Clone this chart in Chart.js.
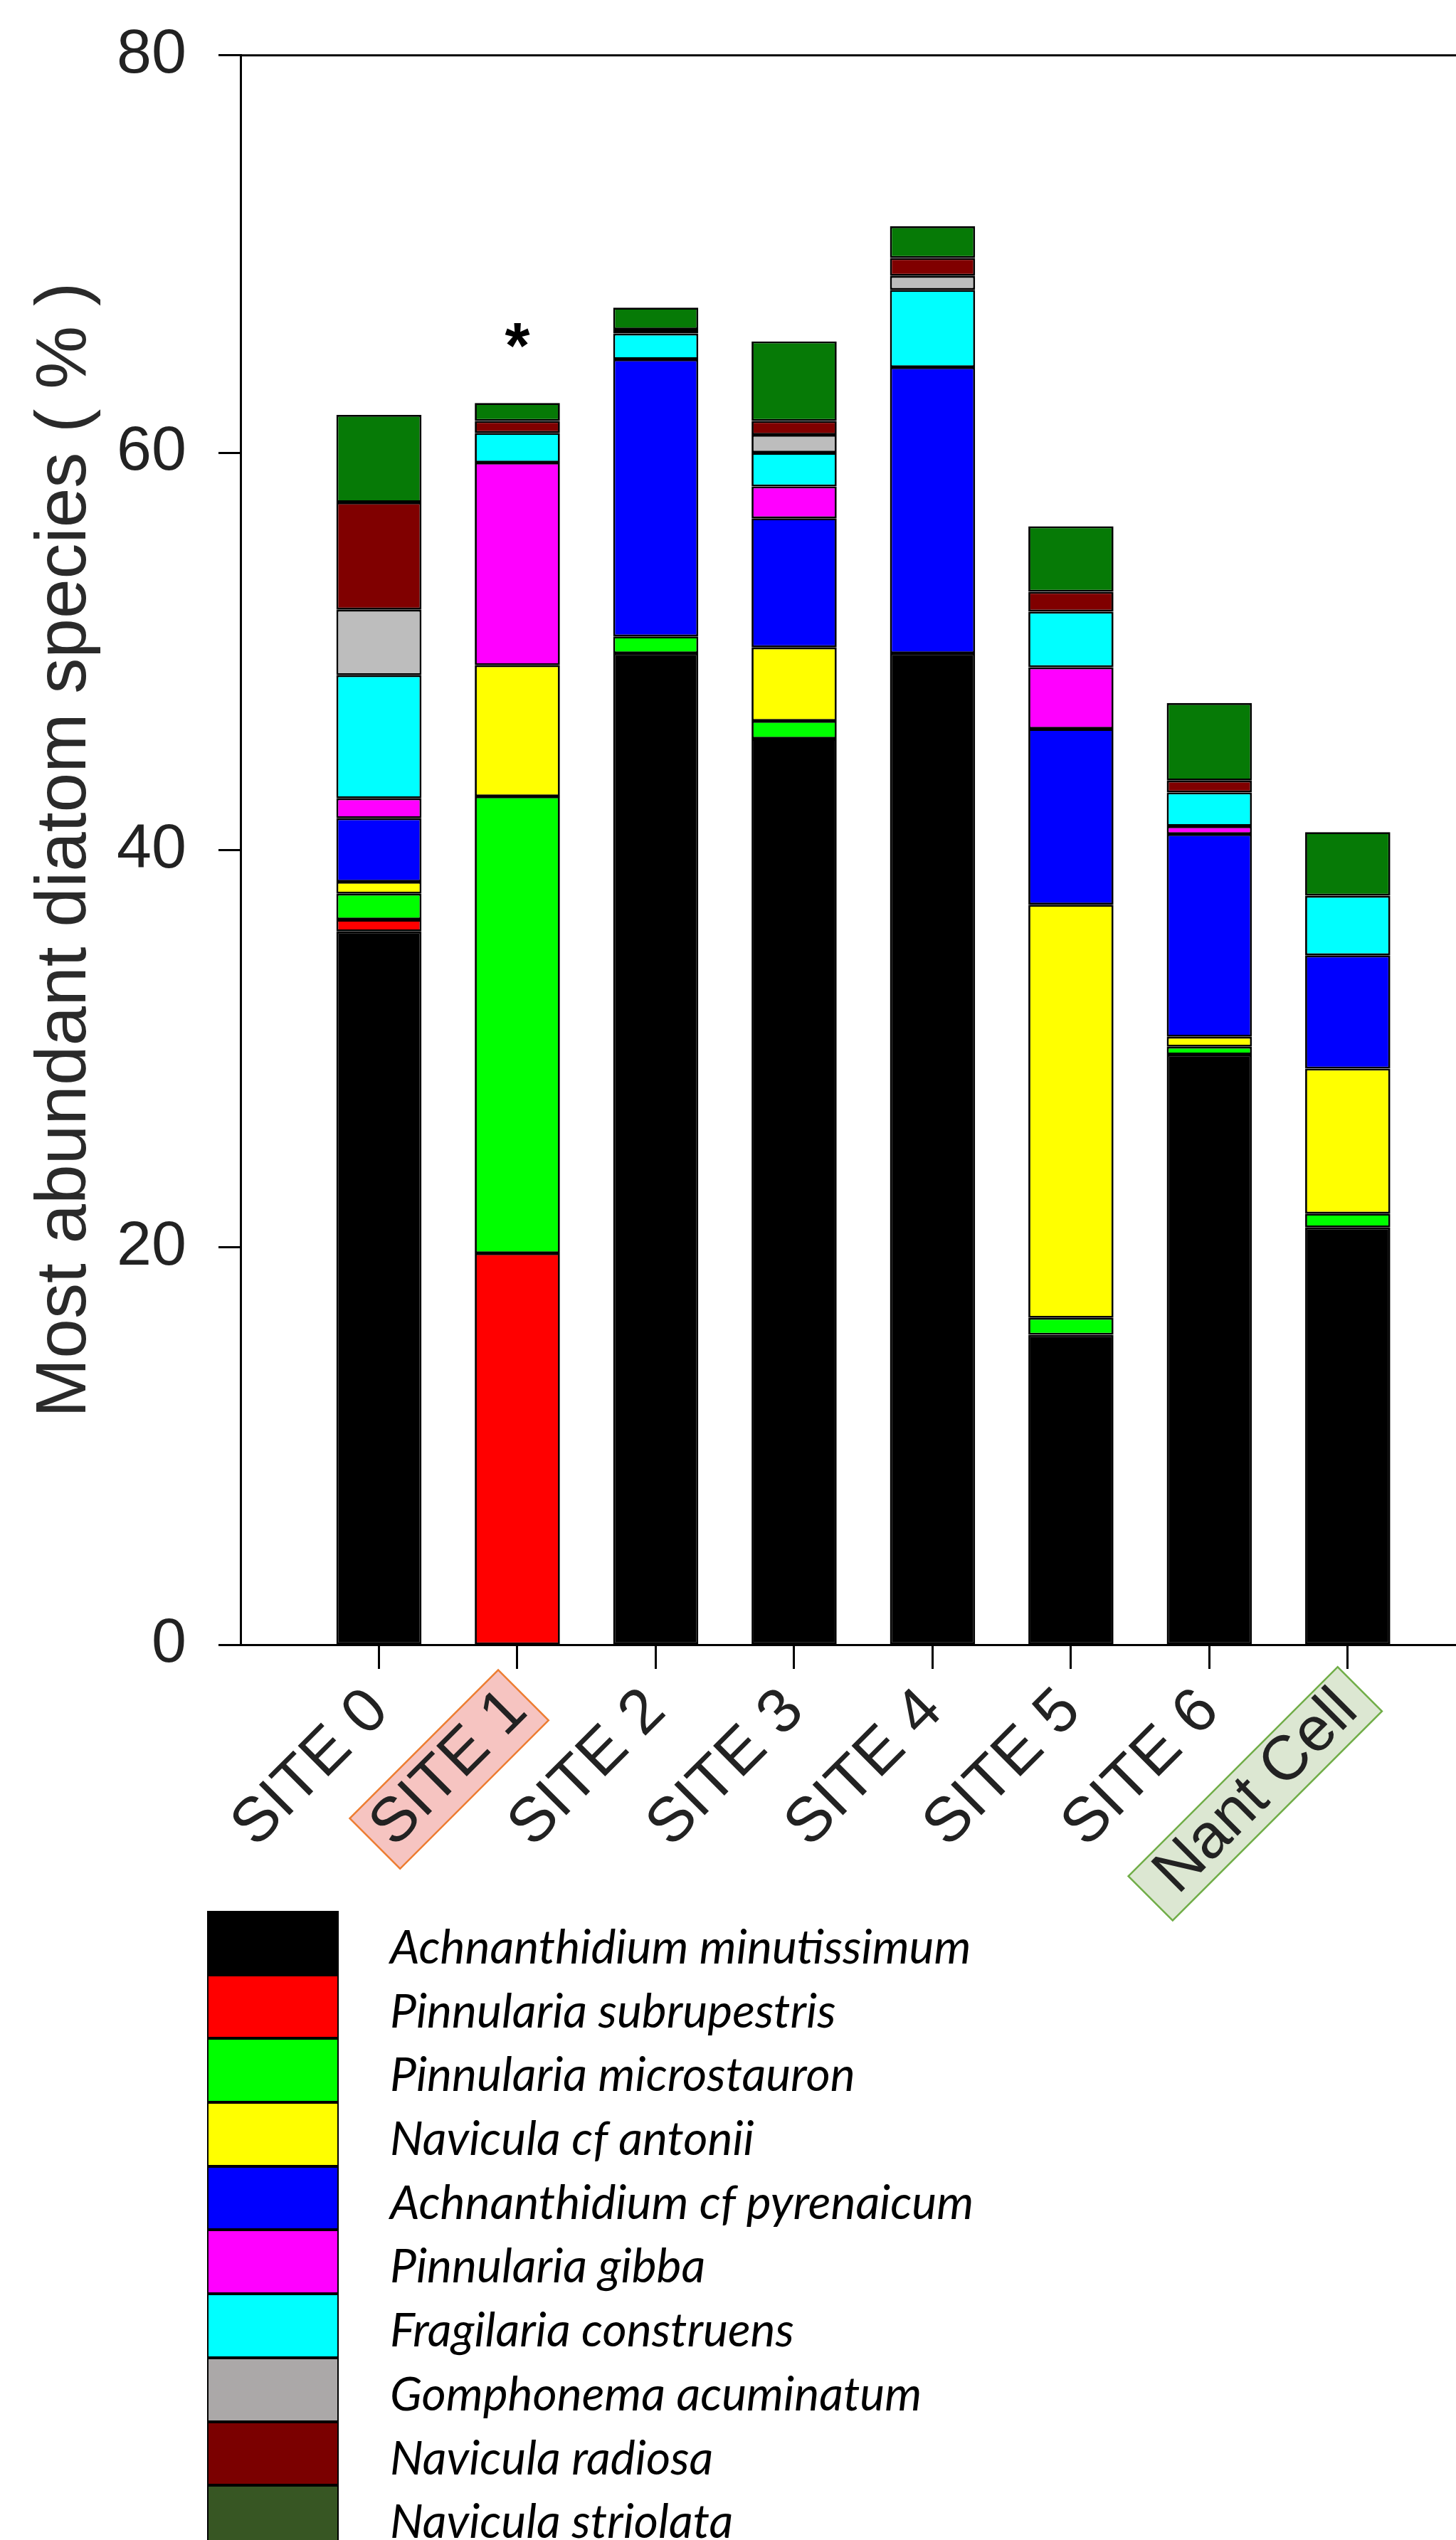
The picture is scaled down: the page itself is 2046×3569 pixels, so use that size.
<!DOCTYPE html>
<html>
<head>
<meta charset="utf-8">
<script src="https://cdn.jsdelivr.net/npm/chart.js@4"></script>
<style>
  html, body { margin: 0; padding: 0; background: #fff; width: 2046px; height: 3569px; overflow: hidden; }
  #chartWrap { position: absolute; left: 0; top: -20px; width: 2171px; height: 2731px; }
  #legend { position: absolute; left: 291px; top: 2685px; }
  .row { position: relative; height: 89.7px; }
  .swatch { position: absolute; left: 0; top: 0; width: 185px; height: 89.7px; box-sizing: border-box; border: 2.5px solid #000; }
  .name { position: absolute; left: 257px; top: 0; height: 89.7px; line-height: 89.7px; padding-top: 4px;
          font-family: Lato, "Open Sans", sans-serif; font-style: italic; font-size: 66px; color: #000; white-space: nowrap; }
</style>
</head>
<body>
<div id="chartWrap"><canvas id="diatomChart" width="2171" height="2731"></canvas></div>
<div id="legend"></div>
<script>
// Sites on the x axis
const sites = ['SITE 0', 'SITE 1', 'SITE 2', 'SITE 3', 'SITE 4', 'SITE 5', 'SITE 6', 'Nant Cell'];

// Species, bottom of the stack first
const species = [
    'Achnanthidium minutissimum',
    'Pinnularia subrupestris',
    'Pinnularia microstauron',
    'Navicula cf antonii',
    'Achnanthidium cf pyrenaicum',
    'Pinnularia gibba',
    'Fragilaria construens',
    'Gomphonema acuminatum',
    'Navicula radiosa',
    'Navicula striolata'
];

// Relative abundance (%) per site, one array per species
const minutissimum  = [35.9,  0.0, 49.9, 45.6, 49.9, 15.6, 29.7, 21.0];
const subrupestris  = [ 0.6, 19.7,  0.0,  0.0,  0.0,  0.0,  0.0,  0.0];
const microstauron  = [ 1.3, 23.0,  0.85, 0.9,  0.0,  0.85, 0.4,  0.7];
const antonii       = [ 0.6,  6.6,  0.0,  3.7,  0.0, 20.8,  0.5,  7.3];
const pyrenaicum    = [ 3.2,  0.0, 13.95, 6.5, 14.4,  8.85, 10.2, 5.7];
const gibba         = [ 1.0, 10.2,  0.0,  1.6,  0.0,  3.1,  0.4,  0.0];
const construens    = [ 6.2,  1.5,  1.3,  1.7,  3.9,  2.8,  1.7,  3.0];
const acuminatum    = [ 3.3,  0.0,  0.0,  0.9,  0.7,  0.0,  0.0,  0.0];
const radiosa       = [ 5.4,  0.6,  0.2,  0.7,  0.9,  1.0,  0.6,  0.0];
const striolata     = [ 4.4,  0.9,  1.1,  4.0,  1.6,  3.3,  3.9,  3.2];

const seriesValues = [minutissimum, subrupestris, microstauron, antonii, pyrenaicum,
                      gibba, construens, acuminatum, radiosa, striolata];

const barColors = ['#000000', '#ff0000', '#00ff00', '#ffff00', '#0000ff',
                   '#ff00ff', '#00ffff', '#bdbdbd', '#800000', '#067a06'];
const legendColors = ['#000000', '#ff0000', '#00ff00', '#ffff00', '#0000ff',
                      '#ff00ff', '#00ffff', '#aba8a8', '#7b0000', '#375623'];

const yTicks = [0, 20, 40, 60, 80];
const significance = ['', '*', '', '', '', '', '', ''];

// highlighted tick labels
const labelBoxes = {
    'SITE 1': { fill: '#f6c4c1', stroke: '#ed7d31', padL: 14, padR: 12, h: 100 },
    'Nant Cell': { fill: '#dce7d2', stroke: '#70ad47', padL: 30, padR: 24, h: 88 }
};

// blank slot on each side so the first bar sits one step from the axis
const labels = [''].concat(sites, ['']);

const datasets = species.map((name, i) => ({
    label: name,
    data: [null].concat(seriesValues[i].map(v => v > 0 ? v : null), [null]),
    backgroundColor: barColors[i],
    borderColor: '#000',
    borderWidth: 2.8,
    borderSkipped: false,
    categoryPercentage: 1,
    barPercentage: 0.615
}));

const extrasPlugin = {
    id: 'extras',
    beforeDraw(chart) {
        const ctx = chart.ctx;
        const xScale = chart.scales.x;
        xScale.getLabelItems().forEach(item => {
            const style = labelBoxes[item.label];
            if (!style) return;
            ctx.save();
            ctx.font = item.font.string;
            const w = ctx.measureText(item.label).width;
            const [tx, ty] = item.options.translation;
            ctx.translate(tx, ty);
            ctx.rotate(item.options.rotation);
            ctx.fillStyle = style.fill;
            ctx.strokeStyle = style.stroke;
            ctx.lineWidth = 2.5;
            const x0 = -w - style.padL;
            const y0 = item.textOffset - style.h / 2;
            const bw = w + style.padL + style.padR;
            ctx.fillRect(x0, y0, bw, style.h);
            ctx.strokeRect(x0, y0, bw, style.h);
            ctx.restore();
        });
    },
    afterDraw(chart) {
        const ctx = chart.ctx;
        const area = chart.chartArea;
        const xScale = chart.scales.x;
        const yScale = chart.scales.y;
        // top frame line
        ctx.save();
        ctx.strokeStyle = '#000';
        ctx.lineWidth = 3;
        ctx.beginPath();
        ctx.moveTo(area.left, area.top);
        ctx.lineTo(chart.width, area.top);
        ctx.stroke();
        // significance marks
        ctx.fillStyle = '#000';
        ctx.font = 'bold 90px "Liberation Sans", Arial, sans-serif';
        ctx.textAlign = 'center';
        ctx.textBaseline = 'alphabetic';
        significance.forEach((mark, i) => {
            if (!mark) return;
            const total = seriesValues.reduce((s, arr) => s + arr[i], 0);
            ctx.fillText(mark, xScale.getPixelForValue(i + 1), yScale.getPixelForValue(total) - 49);
        });
        ctx.restore();
    }
};

const ctx = document.getElementById('diatomChart').getContext('2d');
new Chart(ctx, {
    type: 'bar',
    data: { labels: labels, datasets: datasets },
    plugins: [extrasPlugin],
    options: {
        responsive: false,
        animation: false,
        devicePixelRatio: 1,
        layout: { padding: { top: 58, right: 11.5, bottom: 0, left: 0 } },
        plugins: {
            legend: { display: false },
            tooltip: { enabled: false }
        },
        scales: {
            x: {
                stacked: true,
                offset: false,
                afterFit: s => { s.height = 400; },
                grid: {
                    offset: false,
                    drawOnChartArea: false,
                    drawTicks: true,
                    tickLength: 34,
                    tickWidth: 3,
                    tickColor: c => (c.tick && c.tick.label) ? '#000' : 'rgba(0,0,0,0)'
                },
                border: { display: true, color: '#000', width: 3 },
                ticks: {
                    autoSkip: false,
                    minRotation: 45,
                    maxRotation: 45,
                    padding: 8,
                    color: '#222',
                    font: { family: '"Liberation Sans", Arial, sans-serif', size: 88 }
                }
            },
            y: {
                stacked: true,
                min: 0,
                max: 80,
                afterFit: s => { s.width = 338; },
                afterBuildTicks: s => { s.ticks = yTicks.map(v => ({ value: v })); },
                grid: {
                    drawOnChartArea: false,
                    drawTicks: true,
                    tickLength: 31,
                    tickWidth: 3,
                    tickColor: '#000'
                },
                border: { display: true, color: '#000', width: 3 },
                ticks: {
                    padding: 45,
                    color: '#222',
                    font: { family: '"Liberation Sans", Arial, sans-serif', size: 88 }
                },
                title: {
                    display: true,
                    text: 'Most abundant diatom species ( % )',
                    color: '#2a2a2a',
                    padding: { top: 32, bottom: 12 },
                    font: { family: '"Liberation Sans", Arial, sans-serif', size: 100, lineHeight: 1.2 }
                }
            }
        }
    }
});

// legend column below the chart
const legendEl = document.getElementById('legend');
species.forEach((name, i) => {
    const row = document.createElement('div');
    row.className = 'row';
    const sw = document.createElement('div');
    sw.className = 'swatch';
    sw.style.background = legendColors[i];
    const txt = document.createElement('div');
    txt.className = 'name';
    txt.textContent = name;
    row.appendChild(sw);
    row.appendChild(txt);
    legendEl.appendChild(row);
});
</script>
</body>
</html>
